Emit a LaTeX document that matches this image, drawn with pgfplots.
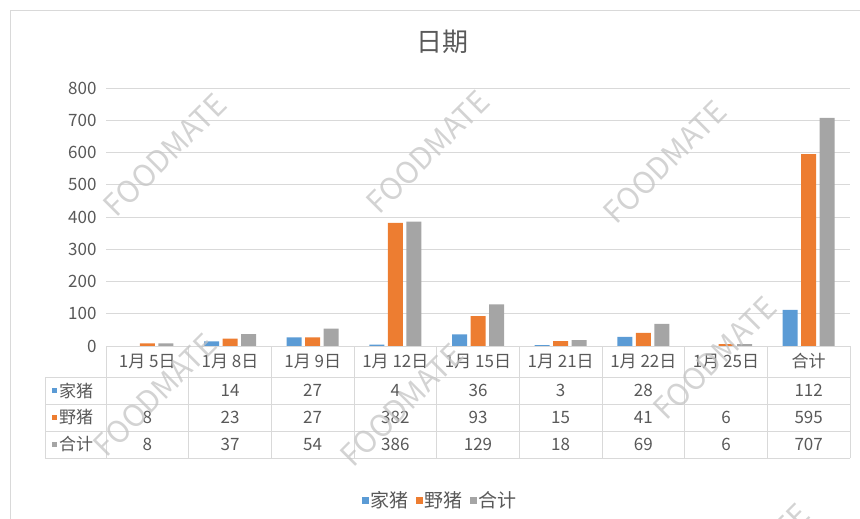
\documentclass[border=0pt]{standalone}
\usepackage{fontspec}
\setmainfont{Noto Sans CJK SC}
\usepackage{pgfplots}
\usepackage{pgfplotstable}
\pgfplotsset{compat=1.18}

\definecolor{jia}{HTML}{5B9BD5}
\definecolor{ye}{HTML}{ED7D31}
\definecolor{he}{HTML}{A5A5A5}
\definecolor{txt}{HTML}{595959}
\definecolor{gridc}{HTML}{D9D9D9}
\definecolor{wm}{HTML}{C4C4C4}

% 家猪 / 野猪 / 合计, nan = empty cell
\pgfplotstableread{
x jia ye he
0 nan 8 8
1 14 23 37
2 27 27 54
3 4 382 386
4 36 93 129
5 3 15 18
6 28 41 69
7 nan 6 6
8 112 595 707
}\datatable

\def\nanstr{nan}
\def\colw{82.667}
\newcommand\tfont{\fontsize{17}{19}\selectfont}

\begin{document}
\begin{tikzpicture}[x=1pt,y=1pt]
\useasboundingbox (0,0) rectangle (860,-519);
\draw[gridc] (10,-530) -- (10,-10) -- (870,-10);

\node[text=txt, font=\fontsize{26}{28}\selectfont] at (442,-42) {日期};

\begin{axis}[
  sqleg/.style={legend image code/.code={\fill[#1] (0pt,-3.5pt) rectangle (7pt,3.5pt);}},
  at={(106pt,-346pt)}, anchor=south west,
  width=744pt, height=258pt, scale only axis,
  xmin=-0.5, xmax=8.5, ymin=0, ymax=800,
  ytick={0,100,...,800}, xtick=\empty,
  axis line style={draw=none},
  ymajorgrids, grid style={gridc, line width=0.8pt},
  major tick length=0pt,
  ybar=3.5pt, bar width=15pt,
  yticklabel style={font=\tfont, text=txt, xshift=-6pt},
  /pgf/number format/assume math mode=true,
  legend style={at={(0.449,-0.597)}, anchor=center, draw=none, fill=none,
    legend columns=-1, font=\fontsize{19}{21}\selectfont, text=txt,
    /tikz/every even column/.append style={column sep=5pt}},
  clip=false,
]
\addplot[fill=jia, draw=none, sqleg=jia] table[x=x,y=jia]{\datatable};
\addplot[fill=ye, draw=none, sqleg=ye] table[x=x,y=ye]{\datatable};
\addplot[fill=he, draw=none, sqleg=he] table[x=x,y=he]{\datatable};
\legend{家猪,野猪,合计}
\end{axis}

% data table
\foreach \i in {0,...,9} \draw[gridc] ({106+\i*\colw},-346) -- ({106+\i*\colw},-458);
\draw[gridc] (45,-377) -- (45,-458);
\draw[gridc] (106,-346) -- (850,-346);
\foreach \yy in {377,404,431,458} \draw[gridc] (45,-\yy) -- (850,-\yy);

\foreach \lab [count=\i from 0] in {1月 5日,1月 8日,1月 9日,1月 12日,1月 15日,1月 21日,1月 22日,1月 25日,合计}
  \node[text=txt, font=\tfont] at ({106+(\i+0.5)*\colw},-361.5) {\lab};

\foreach \c/\name/\yy in {jia/家猪/390.5, ye/野猪/417.5, he/合计/444.5} {
  \fill[\c] (51.7,{-\yy-2.8}) rectangle (57.3,{-\yy+2.8});
  \node[anchor=west, inner sep=0pt, text=txt, font=\tfont] at (59,-\yy) {\name};
}

\foreach \i in {0,...,8} {
  \foreach \col/\yy in {jia/390.5, ye/417.5, he/444.5} {
    \pgfplotstablegetelem{\i}{\col}\of\datatable
    \edef\tmp{\pgfplotsretval}
    \ifx\tmp\nanstr\else
      \node[text=txt, font=\tfont] at ({106+(\i+0.5)*\colw},-\yy) {\tmp};
    \fi
  }
}

% watermarks
\foreach \wx/\wy in {165/155, 428/152, 665/162, 155/395, 402/405, 715/358, 748/565}
  \node[rotate=45, text=wm, opacity=0.75, font=\fontsize{30}{30}\selectfont] at (\wx,-\wy) {FOODMATE};
\end{tikzpicture}
\end{document}
